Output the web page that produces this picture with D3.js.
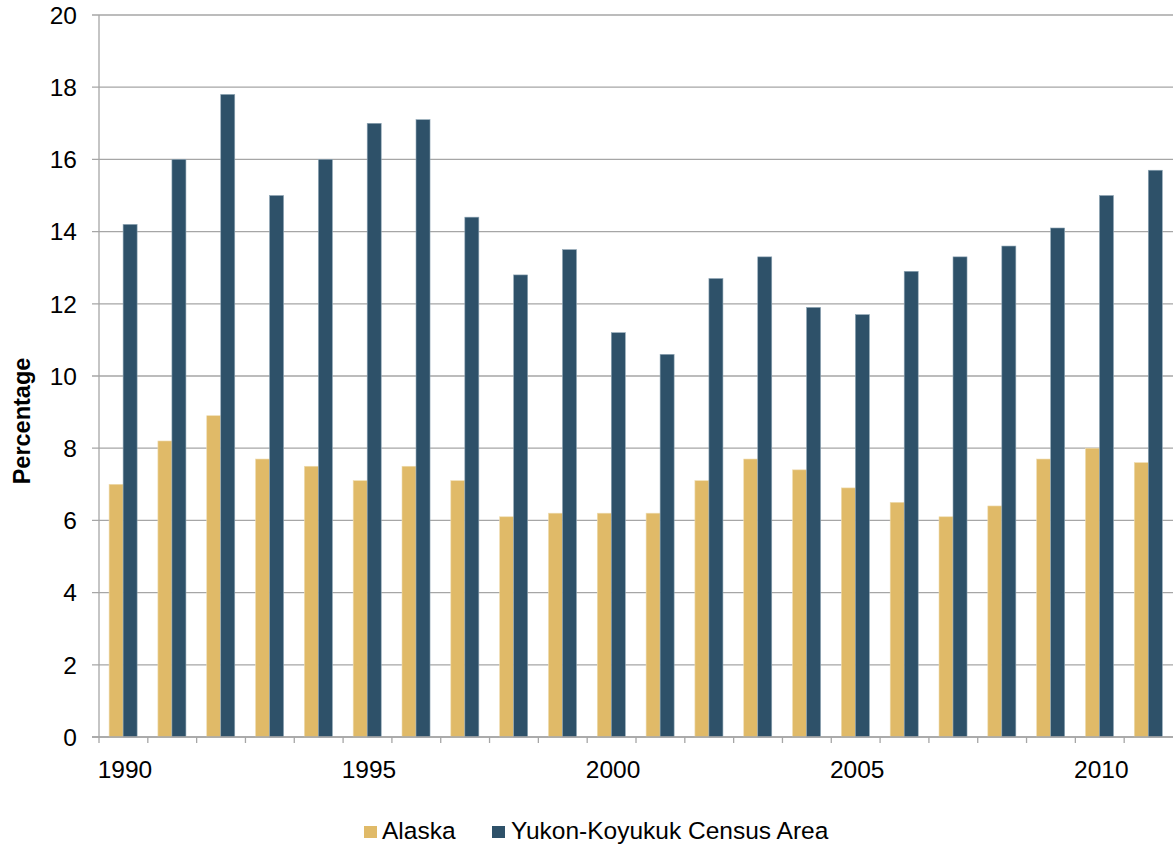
<!DOCTYPE html>
<html>
<head>
<meta charset="utf-8">
<script src="https://cdn.jsdelivr.net/npm/d3@7"></script>
<style>
  html, body { margin: 0; padding: 0; background: #fff; }
  svg { display: block; font-family: "Liberation Sans", Arial, sans-serif; }
</style>
</head>
<body>
<svg id="chart" width="1173" height="846"></svg>
<script>
// Annual percentages, 1990–2011
const years = d3.range(1990, 2012);
const alaska = [7.0, 8.2, 8.9, 7.7, 7.5, 7.1, 7.5, 7.1, 6.1, 6.2, 6.2, 6.2, 7.1, 7.7, 7.4, 6.9, 6.5, 6.1, 6.4, 7.7, 8.0, 7.6];
const yukon  = [14.2, 16.0, 17.8, 15.0, 16.0, 17.0, 17.1, 14.4, 12.8, 13.5, 11.2, 10.6, 12.7, 13.3, 11.9, 11.7, 12.9, 13.3, 13.6, 14.1, 15.0, 15.7];
const seriesNames = ["Alaska", "Yukon-Koyukuk Census Area"];
const seriesColors = ["#E0BA68", "#2E5169"];
const yTicks = [0, 2, 4, 6, 8, 10, 12, 14, 16, 18, 20];
const xTickLabels = [1990, 1995, 2000, 2005, 2010];

const svg = d3.select("#chart");
const plotLeft = 99, plotRight = 1173, plotTop = 15, plotBottom = 737;
const fontSize = 24.5;

const x = d3.scaleBand().domain(years).range([plotLeft, plotRight]).paddingInner(0).paddingOuter(0);
const y = d3.scaleLinear().domain([0, 20]).range([plotBottom, plotTop]);
const bw = x.bandwidth();
const barW = bw * 0.287;
const groupOffset = (bw - 2 * barW) / 2 - 0.3;

// Horizontal gridlines and y tick labels
svg.append("g").selectAll("line").data(yTicks).join("line")
  .attr("x1", plotLeft - 7).attr("x2", plotRight)
  .attr("y1", d => y(d)).attr("y2", d => y(d))
  .attr("stroke", "#a6a6a6").attr("stroke-width", 1.3);

svg.append("g").selectAll("text").data(yTicks).join("text")
  .attr("x", 77).attr("y", d => y(d))
  .attr("dy", "0.36em")
  .attr("text-anchor", "end")
  .attr("font-size", fontSize).attr("fill", "#000")
  .text(d => d);

// Vertical axis line
svg.append("line")
  .attr("x1", plotLeft).attr("x2", plotLeft).attr("y1", plotTop).attr("y2", plotBottom + 6)
  .attr("stroke", "#a6a6a6").attr("stroke-width", 1.3);

// Category boundary ticks
svg.append("g").selectAll("line").data(years.slice(1)).join("line")
  .attr("x1", d => x(d)).attr("x2", d => x(d))
  .attr("y1", plotBottom).attr("y2", plotBottom + 6)
  .attr("stroke", "#a6a6a6").attr("stroke-width", 1.3);

// Bars
const seriesData = [alaska, yukon];
seriesData.forEach((vals, si) => {
  svg.append("g").selectAll("rect").data(years).join("rect")
    .attr("x", (d) => x(d) + groupOffset + si * barW)
    .attr("y", (d, i) => y(vals[i]))
    .attr("width", barW)
    .attr("height", (d, i) => y(0) - y(vals[i]))
    .attr("fill", seriesColors[si])
    .attr("stroke", si === 0 ? "#eedcb0" : "#8fa6b5")
    .attr("stroke-width", 0.6);
});

// Redraw baseline over bars
svg.append("line")
  .attr("x1", plotLeft - 7).attr("x2", plotRight).attr("y1", plotBottom).attr("y2", plotBottom)
  .attr("stroke", "#a6a6a6").attr("stroke-width", 1.3);

// x tick labels
svg.append("g").selectAll("text").data(xTickLabels).join("text")
  .attr("x", d => x(d) + bw / 2 + 1.5).attr("y", 778)
  .attr("text-anchor", "middle")
  .attr("font-size", fontSize).attr("fill", "#000")
  .text(d => d);

// y axis title
svg.append("text")
  .attr("transform", "translate(30,421) rotate(-90)")
  .attr("text-anchor", "middle")
  .attr("font-size", 23.5).attr("font-weight", "bold").attr("fill", "#000")
  .text("Percentage");

// Legend
const legendItems = [{x: 364, tx: 382}, {x: 492, tx: 511}];
legendItems.forEach((it, i) => {
  svg.append("rect").attr("x", it.x).attr("y", 826).attr("width", 13).attr("height", 12)
    .attr("fill", seriesColors[i]);
  svg.append("text").attr("x", it.tx).attr("y", 839)
    .attr("font-size", fontSize).attr("fill", "#000")
    .text(seriesNames[i]);
});
</script>
</body>
</html>
